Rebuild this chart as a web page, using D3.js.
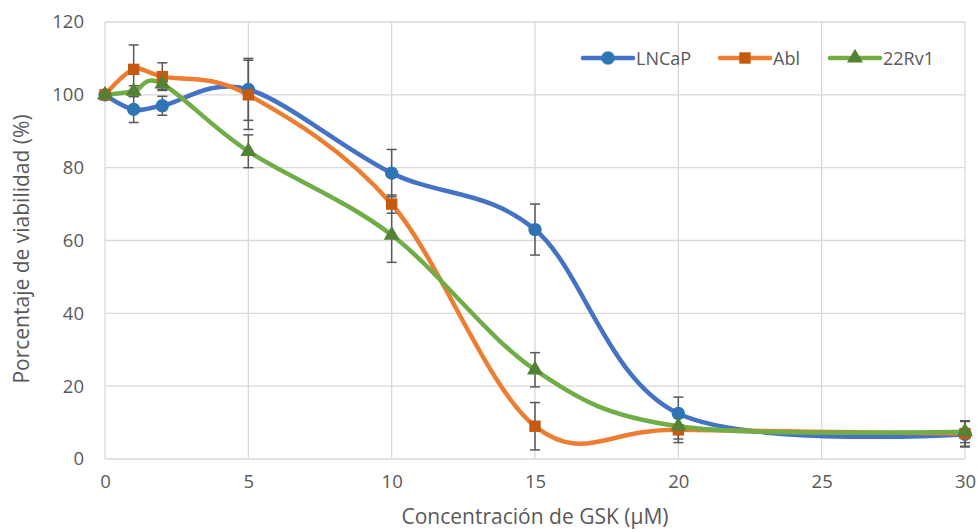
<!DOCTYPE html>
<html><head><meta charset="utf-8">
<script src="https://cdn.jsdelivr.net/npm/d3@7"></script>
<style>body{margin:0;background:#fff}svg{display:block}text{font-family:"Open Sans","Liberation Sans",Arial,sans-serif}</style>
</head><body><svg id="c" width="978" height="532"></svg>
<script>
const conc = [0, 1, 2, 5, 10, 15, 20, 30];
const lncap = [100, 96, 97, 101.5, 78.5, 63, 12.5, 6.8];
const lncapErr = [0, 3.6, 2.6, 8.5, 6.5, 7, 4.5, 3.5];
const abl = [100, 107, 105, 100, 70, 9, 8, 7];
const ablErr = [0, 6.7, 3.8, 9.5, 2.5, 6.5, 3.5, 3.5];
const rv1 = [100, 101, 103, 84.5, 61.5, 24.5, 9, 7.5];
const rv1Err = [0, 1.5, 1.5, 4.5, 7.5, 4.7, 3.5, 3];
const xTicks = [0, 5, 10, 15, 20, 25, 30];
const yTicks = [0, 20, 40, 60, 80, 100, 120];
const seriesNames = ["LNCaP", "Abl", "22Rv1"];

const FONT = '"Open Sans","Liberation Sans",Arial,sans-serif';
const svg = d3.select("#c");
const x = d3.scaleLinear().domain([0, 30]).range([105, 965]);
const y = d3.scaleLinear().domain([0, 120]).range([459, 22]);

const grid = svg.append("g");
grid.selectAll("line.h").data(yTicks).join("line")
  .attr("x1", x(0)).attr("x2", x(30)).attr("y1", d => y(d)).attr("y2", d => y(d))
  .attr("stroke", "#d9d9d9").attr("stroke-width", 1.3);
grid.selectAll("line.v").data(xTicks).join("line")
  .attr("y1", y(0)).attr("y2", y(120)).attr("x1", d => x(d)).attr("x2", d => x(d))
  .attr("stroke", "#d9d9d9").attr("stroke-width", 1.3);

const xAxis = svg.append("g").attr("transform", `translate(0,${y(0)})`)
  .call(d3.axisBottom(x).tickValues(xTicks).tickSize(0).tickPadding(16));
xAxis.select(".domain").remove();
xAxis.selectAll("text").attr("font-size", 18.5).attr("fill", "#595959").style("font-family", FONT);
const yAxis = svg.append("g").attr("transform", `translate(${x(0)},0)`)
  .call(d3.axisLeft(y).tickValues(yTicks).tickSize(0).tickPadding(21));
yAxis.select(".domain").remove();
yAxis.selectAll("text").attr("font-size", 18.5).attr("fill", "#595959").style("font-family", FONT);

svg.append("text").attr("x", 535).attr("y", 524).attr("text-anchor", "middle")
  .attr("font-size", 21).attr("fill", "#595959").text("Concentración de GSK (µM)");
svg.append("text").attr("transform", `translate(29,249) rotate(-90)`).attr("text-anchor", "middle")
  .attr("font-size", 21).attr("fill", "#595959").text("Porcentaje de viabilidad (%)");

const series = [
  {name: seriesNames[0], vals: lncap, err: lncapErr, line: "#4472C4", mark: "#2E75B6", sym: d3.symbolCircle, size: 140},
  {name: seriesNames[1], vals: abl, err: ablErr, line: "#ED7D31", mark: "#C55A11", sym: d3.symbolSquare, size: 130},
  {name: seriesNames[2], vals: rv1, err: rv1Err, line: "#70AD47", mark: "#548235", sym: d3.symbolTriangle, size: 110}
];

const lineGen = d3.line().x(d => x(d[0])).y(d => y(d[1])).curve(d3.curveCardinal.tension(0));

series.forEach(s => {
  const pts = conc.map((c, i) => [c, s.vals[i], s.err[i]]);
  svg.append("path").datum(pts).attr("d", lineGen).attr("fill", "none")
    .attr("stroke", s.line).attr("stroke-width", 4.5).attr("stroke-linejoin", "round");
});
series.forEach(s => {
  const pts = conc.map((c, i) => [c, s.vals[i], s.err[i]]).filter(d => d[2] > 0);
  const g = svg.append("g").attr("stroke", "#595959").attr("stroke-width", 1.5);
  g.selectAll("line.e").data(pts).join("line")
    .attr("x1", d => x(d[0])).attr("x2", d => x(d[0]))
    .attr("y1", d => y(d[1] + d[2])).attr("y2", d => y(d[1] - d[2]));
  g.selectAll("line.t").data(pts).join("line")
    .attr("x1", d => x(d[0]) - 5).attr("x2", d => x(d[0]) + 5)
    .attr("y1", d => y(d[1] + d[2])).attr("y2", d => y(d[1] + d[2]));
  g.selectAll("line.b").data(pts).join("line")
    .attr("x1", d => x(d[0]) - 5).attr("x2", d => x(d[0]) + 5)
    .attr("y1", d => y(d[1] - d[2])).attr("y2", d => y(d[1] - d[2]));
});
series.forEach(s => {
  const pts = conc.map((c, i) => [c, s.vals[i]]);
  svg.append("g").selectAll("path").data(pts).join("path")
    .attr("transform", d => `translate(${x(d[0])},${y(d[1])})`)
    .attr("d", d3.symbol().type(s.sym).size(s.size)).attr("fill", s.mark);
});

// legend
const legX = [583, 720, 830];
series.forEach((s, i) => {
  const g = svg.append("g").attr("transform", `translate(${legX[i]},58)`);
  g.append("line").attr("x1", 0).attr("x2", 50).attr("stroke", s.line).attr("stroke-width", 4.5).attr("stroke-linecap", "round");
  g.append("path").attr("transform", "translate(25,0)").attr("d", d3.symbol().type(s.sym).size(s.size)).attr("fill", s.mark);
  g.append("text").attr("x", 53).attr("y", 6.5).attr("font-size", 18).attr("fill", "#595959").text(s.name);
});
</script></body></html>
